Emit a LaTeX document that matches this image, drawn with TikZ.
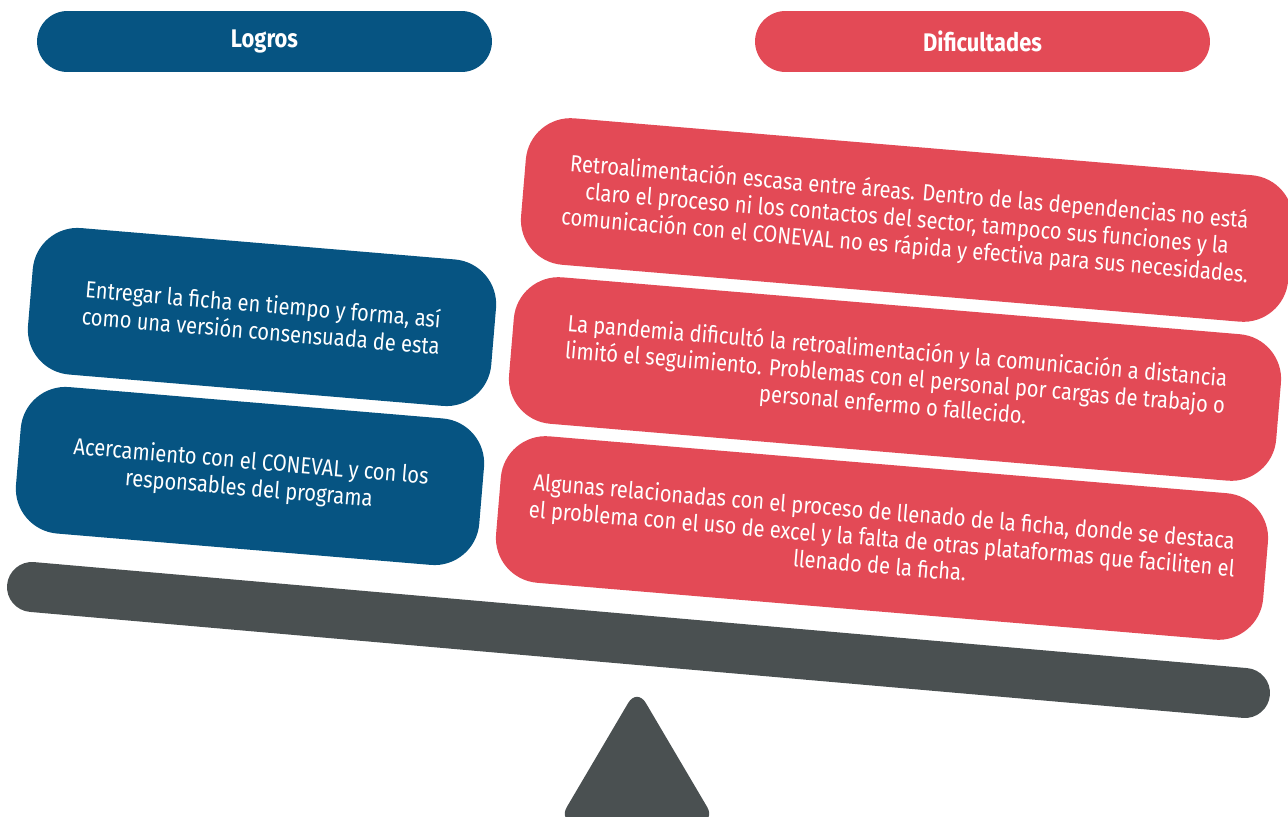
\documentclass[tikz,border=0pt]{standalone}
\usepackage{fontspec}
\setmainfont{Fira Sans}[FakeStretch=0.86]
\definecolor{logroblue}{HTML}{065482}
\definecolor{difred}{HTML}{E34A56}
\definecolor{beamgray}{HTML}{4A5051}

\begin{document}
\begin{tikzpicture}[x=0.02cm, y=-0.02cm,
    header/.style={rounded corners=0.61cm, minimum width=9.1cm, minimum height=1.22cm,
      text=white, font=\bfseries\fontsize{14.5}{16}\selectfont},
    card/.style={rounded corners=0.9cm, rotate=-4.8, text=white, align=center,
      minimum height=2.94cm, font=\fontsize{13.3}{15.4}\selectfont},
    logro/.style={card, fill=logroblue, minimum width=9.3cm},
    dificultad/.style={card, fill=difred, minimum width=15.4cm}]
  \clip (0,0) rectangle (1288,817);

  % Headers
  \node[header, fill=logroblue] (logros) at (264.5,41.5) {Logros};
  \node[header, fill=difred] (dificultades) at (982.5,41.5) {Dificultades};

  % Logros
  \node[logro] (l1) at (262,317) {Entregar la ficha en tiempo y forma, así\\como una versión consensuada de esta};
  \node[logro] (l2) at (250,476) {Acercamiento con el CONEVAL y con los\\responsables del programa};

  % Dificultades
  \node[dificultad] (d1) at (907,220) {Retroalimentación escasa entre áreas. Dentro de las dependencias no está\\claro el proceso ni los contactos del sector, tampoco sus funciones y la\\comunicación con el CONEVAL no es rápida y efectiva para sus necesidades.};
  \node[dificultad] (d2) at (895,379) {La pandemia dificultó la retroalimentación y la comunicación a distancia\\limitó el seguimiento. Problemas con el personal por cargas de trabajo o\\personal enfermo o fallecido.};
  \node[dificultad] (d3) at (882,538) {Algunas relacionadas con el proceso de llenado de la ficha, donde se destaca\\el problema con el uso de excel y la falta de otras plataformas que faciliten el\\llenado de la ficha.};

  % Balance
  \coordinate (beamL) at (32,587);
  \coordinate (beamR) at (1245,693);
  \draw[beamgray, line width=1cm, line cap=round] (beamL) -- (beamR);
  \fill[beamgray, rounded corners=0.35cm] (637,688) -- (716,822) -- (558,822) -- cycle;
\end{tikzpicture}
\end{document}
